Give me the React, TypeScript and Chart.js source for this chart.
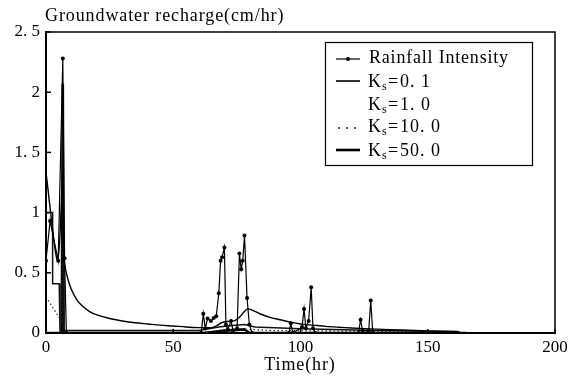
import React, { useEffect, useRef } from 'react';
import { Chart, registerables } from 'chart.js';

Chart.register(...registerables);

// ---- data ----
const xTicks = [0, 50, 100, 150, 200];
const yTicks = [0, 0.5, 1, 1.5, 2, 2.5];
const yTickLabels = ['0', '0. 5', '1', '1. 5', '2', '2. 5'];

const rainTime = [0, 1.6, 4.8, 6.6, 7.3, 8.0, 61.0, 61.8, 62.6, 63.5, 64.8, 65.9, 66.9, 67.9, 68.6, 69.2, 70.1, 70.7, 71.4, 72.7, 73.5, 75.1, 76.0, 76.7, 77.3, 78.0, 79.0, 79.9, 81.0, 95.4, 96.2, 97.0, 100.6, 101.4, 102.1, 103.2, 104.2, 104.9, 105.8, 122.8, 123.6, 124.4, 126.8, 127.6, 128.4, 162];
const rainValue = [0.6, 0.93, 0.6, 2.28, 0.62, 0.0, 0.0, 0.16, 0.04, 0.12, 0.1, 0.125, 0.14, 0.33, 0.6, 0.63, 0.71, 0.07, 0.03, 0.1, 0.02, 0.04, 0.66, 0.53, 0.6, 0.81, 0.29, 0.07, 0.0, 0.0, 0.08, 0.0, 0.05, 0.2, 0.04, 0.1, 0.38, 0.04, 0.0, 0.0, 0.11, 0.02, 0.02, 0.27, 0.0, 0.0];

const ks01Time = [0, 4.6, 6.6, 7.0, 8, 9, 10, 12, 14, 17, 20, 25, 30, 35, 40, 45, 50, 55, 60, 65, 67, 69, 71, 74, 76, 78, 79.2, 81, 84, 88, 92, 96, 100, 105, 110, 115, 120, 130, 140, 150, 162];
const ks01Value = [1.33, 0.6, 1.35, 0.62, 0.5, 0.42, 0.36, 0.28, 0.23, 0.18, 0.15, 0.12, 0.1, 0.085, 0.075, 0.065, 0.058, 0.05, 0.045, 0.045, 0.06, 0.085, 0.095, 0.1, 0.13, 0.18, 0.2, 0.19, 0.16, 0.13, 0.11, 0.09, 0.075, 0.065, 0.055, 0.048, 0.042, 0.032, 0.025, 0.018, 0.012];

const ks1Time = [0, 2.6, 2.6, 5.2, 5.5, 6.3, 6.6, 7.0, 60, 68, 72, 78, 82, 100, 130, 162];
const ks1Value = [1.0, 1.0, 0.41, 0.41, 0.0, 0.0, 1.72, 0.02, 0.02, 0.05, 0.06, 0.07, 0.05, 0.035, 0.02, 0.01];

const ks10Time = [0, 3, 6.0, 6.6, 7.2, 60, 70, 79, 90, 162];
const ks10Value = [0.3, 0.2, 0.1, 1.72, 0.0, 0.0, 0.02, 0.03, 0.02, 0.01];

const ks50Time = [0, 6.2, 6.6, 6.9, 62, 70, 78, 80, 165];
const ks50Value = [0.0, 0.0, 2.07, 0.0, 0.0, 0.02, 0.03, 0.0, 0.0];

const seriesNames = ['Rainfall Intensity', 'Ks=0.1', 'Ks=1.0', 'Ks=10.0', 'Ks=50.0'];
const legendValues = ['', '0. 1', '1. 0', '10. 0', '50. 0'];

const zip = (t: number[], v: number[]) => t.map((x, i) => ({ x, y: v[i] }));

const FONT = '"Liberation Serif", "Times New Roman", serif';

const decorPlugin = {
  id: 'decor',
  afterDraw(chart: any) {
    const { ctx, chartArea: a, scales } = chart;
    ctx.save();
    ctx.strokeStyle = '#000';
    ctx.fillStyle = '#000';
    // frame top/right
    ctx.lineWidth = 1.5;
    ctx.beginPath();
    ctx.moveTo(a.left, a.top);
    ctx.lineTo(a.right, a.top);
    ctx.lineTo(a.right, a.bottom);
    ctx.stroke();
    // inward ticks
    ctx.lineWidth = 1.5;
    yTicks.forEach((v) => {
      const py = scales.y.getPixelForValue(v);
      ctx.beginPath();
      ctx.moveTo(a.left, py);
      ctx.lineTo(a.left + 5, py);
      ctx.stroke();
    });
    xTicks.forEach((v) => {
      const px = scales.x.getPixelForValue(v);
      ctx.beginPath();
      ctx.moveTo(px, a.bottom);
      ctx.lineTo(px, a.bottom - 4);
      ctx.stroke();
    });
    // titles
    ctx.font = '18px ' + FONT;
    (ctx as any).letterSpacing = '0.9px';
    ctx.textAlign = 'left';
    ctx.textBaseline = 'alphabetic';
    ctx.fillText('Groundwater recharge(cm/hr)', 45, 21);
    ctx.textAlign = 'center';
    ctx.fillText('Time(hr)', 300, 370);

    // legend
    const bx = 325.5, by = 42.5, bw = 207, bh = 123;
    ctx.lineWidth = 1.2;
    ctx.strokeRect(bx, by, bw, bh);
    const lineY = [59, 81, 104, 128, 150];
    const baseY = [63, 87, 110, 132, 156];
    // samples
    ctx.lineWidth = 1.2;
    ctx.beginPath(); ctx.moveTo(336, lineY[0]); ctx.lineTo(360, lineY[0]); ctx.stroke();
    ctx.beginPath(); ctx.arc(348, lineY[0], 2, 0, Math.PI * 2); ctx.fill();
    ctx.lineWidth = 1.6;
    ctx.beginPath(); ctx.moveTo(336, lineY[1]); ctx.lineTo(360, lineY[1]); ctx.stroke();
    [339, 347, 355].forEach((x) => { ctx.beginPath(); ctx.arc(x, lineY[3], 0.9, 0, Math.PI * 2); ctx.fill(); });
    ctx.lineWidth = 2.6;
    ctx.beginPath(); ctx.moveTo(336, lineY[4]); ctx.lineTo(360, lineY[4]); ctx.stroke();
    // texts
    ctx.textAlign = 'left';
    ctx.font = '18px ' + FONT;
    (ctx as any).letterSpacing = '0.8px';
    ctx.fillText(seriesNames[0], 369, baseY[0]);
    for (let i = 1; i < 5; i++) {
      ctx.font = '18px ' + FONT;
      (ctx as any).letterSpacing = '0px';
      ctx.fillText('K', 368, baseY[i]);
      ctx.font = '12px ' + FONT;
      ctx.fillText('s', 382, baseY[i] + 3);
      ctx.font = '18px ' + FONT;
      ctx.fillText('=', 388, baseY[i]);
      (ctx as any).letterSpacing = '1px';
      ctx.fillText(legendValues[i], 400, baseY[i]);
    }
    ctx.restore();
  },
};

export default function App() {
  const ref = useRef<HTMLCanvasElement | null>(null);
  useEffect(() => {
    document.body.style.margin = '0';
    const canvas = ref.current!;
    const chart = new Chart(canvas, {
      type: 'line',
      data: {
        datasets: [
          {
            label: seriesNames[0],
            data: zip(rainTime, rainValue),
            borderColor: '#000',
            backgroundColor: '#000',
            borderWidth: 1.2,
            pointRadius: 2,
            pointBackgroundColor: '#000',
            pointBorderWidth: 0,
            tension: 0,
          },
          {
            label: seriesNames[1],
            data: zip(ks01Time, ks01Value),
            borderColor: '#000',
            borderWidth: 1.4,
            pointRadius: 0,
            tension: 0.3,
          },
          {
            label: seriesNames[2],
            data: zip(ks1Time, ks1Value),
            borderColor: '#111',
            borderWidth: 1.5,
            pointRadius: 0,
            tension: 0,
          },
          {
            label: seriesNames[3],
            data: zip(ks10Time, ks10Value),
            borderColor: '#222',
            borderWidth: 1.2,
            borderDash: [1.5, 2.5],
            pointRadius: 0,
            tension: 0,
          },
          {
            label: seriesNames[4],
            data: zip(ks50Time, ks50Value),
            borderColor: '#000',
            borderWidth: 2.6,
            pointRadius: 0,
            tension: 0,
          },
        ],
      },
      options: {
        responsive: false,
        animation: false,
        layout: { padding: { left: 0, top: 32, right: 20, bottom: 0 } },
        plugins: { legend: { display: false }, tooltip: { enabled: false }, title: { display: false } },
        scales: {
          x: {
            type: 'linear',
            min: 0,
            max: 200,
            afterBuildTicks: (s: any) => { s.ticks = xTicks.map((v) => ({ value: v })); },
            afterFit: (s: any) => { s.height = 43; },
            ticks: { color: '#000', font: { family: FONT, size: 17 }, padding: 4, maxRotation: 0 },
            grid: { display: true, drawOnChartArea: false, drawTicks: false },
            border: { display: true, color: '#000', width: 2 },
          },
          y: {
            type: 'linear',
            min: 0,
            max: 2.5,
            afterBuildTicks: (s: any) => { s.ticks = yTicks.map((v) => ({ value: v })); },
            afterFit: (s: any) => { s.width = 46; },
            ticks: {
              color: '#000',
              font: { family: FONT, size: 17 },
              padding: 6,
              callback: (v: any) => yTickLabels[yTicks.indexOf(Number(v))] ?? String(v),
            },
            grid: { display: true, drawOnChartArea: false, drawTicks: false },
            border: { display: true, color: '#000', width: 2 },
          },
        },
      },
      plugins: [decorPlugin],
    });
    return () => chart.destroy();
  }, []);
  return (
    <div style={{ width: 575, height: 376, background: '#fff' }}>
      <canvas ref={ref} width={575} height={376} />
    </div>
  );
}
